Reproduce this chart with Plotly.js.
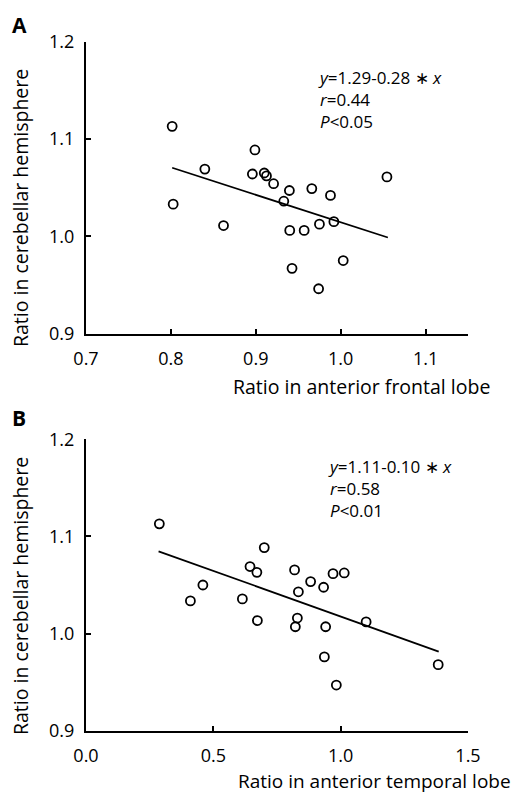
<!DOCTYPE html>
<html>
<head>
<meta charset="utf-8">
<script src="https://cdn.plot.ly/plotly-3.0.1.min.js"></script>
<style>html,body{margin:0;padding:0;background:#fff}#chart{width:519px;height:794px}</style>
</head>
<body>
<div id="chart"></div>
<script>
// Panel A: anterior frontal lobe vs cerebellar hemisphere
var frontalX = [0.8015, 0.8027, 0.840, 0.862, 0.896, 0.899, 0.910, 0.9126, 0.921, 0.9396, 0.933, 0.940, 0.9427, 0.957, 0.966, 0.975, 0.974, 0.988, 0.992, 1.003, 1.0545];
var frontalY = [1.113, 1.033, 1.069, 1.011, 1.064, 1.0887, 1.065, 1.062, 1.054, 1.047, 1.036, 1.006, 0.967, 1.006, 1.049, 1.0124, 0.946, 1.042, 1.015, 0.975, 1.061];
var fitAx = [0.8015, 1.0556];
var fitAy = [1.0704, 0.9987];

// Panel B: anterior temporal lobe vs cerebellar hemisphere
var temporalX = [0.288, 0.41, 0.459, 0.614, 0.644, 0.671, 0.673, 0.70, 0.819, 0.834, 0.83, 0.822, 0.882, 0.933, 0.941, 0.936, 0.970, 1.014, 0.983, 1.10, 1.383];
var temporalY = [1.113, 1.0336, 1.050, 1.0357, 1.069, 1.063, 1.0134, 1.0885, 1.0655, 1.043, 1.016, 1.007, 1.0535, 1.0477, 1.007, 0.976, 1.0617, 1.0624, 0.947, 1.012, 0.968];
var fitBx = [0.285, 1.385];
var fitBy = [1.0847, 0.9815];

var yTicks = [0.9, 1.0, 1.1, 1.2];
var xTicksA = [0.7, 0.8, 0.9, 1.0, 1.1];
var xTicksB = [0.0, 0.5, 1.0, 1.5];

var statsA = ['<i>y</i>=1.29-0.28 ∗ <i>x</i>', '<i>r</i>=0.44', '<i>P</i>&lt;0.05'];
var statsB = ['<i>y</i>=1.11-0.10 ∗ <i>x</i>', '<i>r</i>=0.58', '<i>P</i>&lt;0.01'];

var W = 519, H = 794;
function px(x){ return x / W; }
function py(y){ return 1 - y / H; }

var FONT = "Open Sans, Noto Sans, sans-serif";
var marker = {symbol: 'circle-open', size: 9, color: '#000', line: {width: 1.8, color: '#000'}};

var traces = [
  {x: fitAx, y: fitAy, mode: 'lines', line: {color: '#000', width: 1.8}, xaxis: 'x', yaxis: 'y', hoverinfo: 'skip'},
  {x: frontalX, y: frontalY, mode: 'markers', marker: marker, xaxis: 'x', yaxis: 'y'},
  {x: fitBx, y: fitBy, mode: 'lines', line: {color: '#000', width: 1.8}, xaxis: 'x2', yaxis: 'y2', hoverinfo: 'skip'},
  {x: temporalX, y: temporalY, mode: 'markers', marker: marker, xaxis: 'x2', yaxis: 'y2'}
];

function axisBase(){
  return {showline: true, linecolor: '#000', linewidth: 2, showgrid: false, zeroline: false,
          ticks: 'inside', ticklen: 5, tickwidth: 2, tickcolor: '#000', tickformat: '.1f',
          tickfont: {family: FONT, size: 18, color: '#000'}, fixedrange: true};
}
var xa = Object.assign(axisBase(), {domain: [px(86), px(468)], range: [0.7, 1.15], tickvals: xTicksA, anchor: 'y', ticklabelstandoff: 8});
var ya = Object.assign(axisBase(), {domain: [py(333.5), py(41.7)], range: [0.9, 1.2], tickvals: yTicks, anchor: 'x', ticklabelstandoff: 6});
var xb = Object.assign(axisBase(), {domain: [px(86), px(468)], range: [0, 1.5], tickvals: xTicksB, anchor: 'y2', ticklabelstandoff: 8});
var yb = Object.assign(axisBase(), {domain: [py(730.7), py(439.3)], range: [0.9, 1.2], tickvals: yTicks, anchor: 'x2', ticklabelstandoff: 6});

var tf = {family: FONT, size: 19.5, color: '#000'};
var af = {family: FONT, size: 17, color: '#000'};
function ann(text, x, y, xa, ya, extra){
  return Object.assign({text: text, x: px(x), y: py(y), xref: 'paper', yref: 'paper', xanchor: xa, yanchor: ya, showarrow: false, font: tf}, extra || {});
}

var annotations = [
  ann('<b>A</b>', 10, 25, 'left', 'middle', {font: {family: FONT, size: 21, color: '#000'}}),
  ann('<b>B</b>', 10, 418, 'left', 'middle', {font: {family: FONT, size: 21, color: '#000'}}),
  ann('Ratio in cerebellar hemisphere', 20, 208, 'center', 'middle', {textangle: -90}),
  ann('Ratio in cerebellar hemisphere', 20, 596, 'center', 'middle', {textangle: -90}),
  ann('Ratio in anterior frontal lobe', 492, 386, 'right', 'middle'),
  ann('Ratio in anterior temporal lobe', 513, 781, 'right', 'middle', {font: {family: FONT, size: 19, color: '#000'}}),
  ann(statsA.join('<br>'), 316, 99, 'left', 'middle', {font: af, align: 'left'}),
  ann(statsB.join('<br>'), 326, 489, 'left', 'middle', {font: af, align: 'left'})
];

var layout = {
  width: W, height: H, margin: {l: 0, r: 0, t: 0, b: 0},
  paper_bgcolor: '#fff', plot_bgcolor: '#fff', showlegend: false,
  font: tf,
  xaxis: xa, yaxis: ya, xaxis2: xb, yaxis2: yb,
  annotations: annotations
};

Plotly.newPlot('chart', traces, layout, {staticPlot: true, displayModeBar: false});
</script>
</body>
</html>
